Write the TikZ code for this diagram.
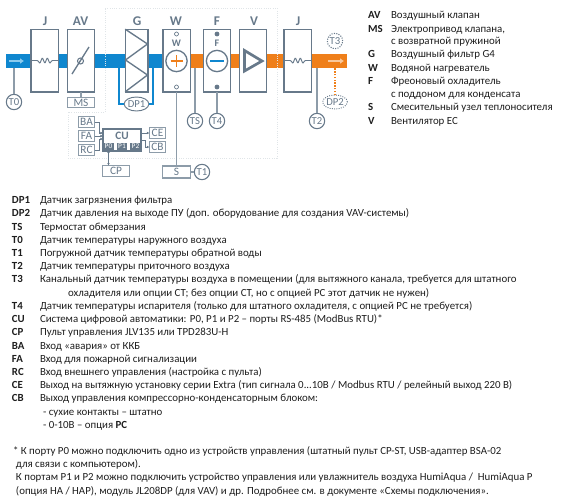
\documentclass[tikz,border=0pt]{standalone}
\usepackage{fontspec}
\setmainfont{Carlito}
\usetikzlibrary{arrows.meta,calc,shapes.geometric}
\definecolor{SlateLine}{HTML}{67798A}
\definecolor{SlateSoft}{HTML}{8D9CA9}
\definecolor{PanelLine}{HTML}{E0E5E8}
\definecolor{DuctBlue}{HTML}{0F87CF}
\definecolor{DuctOrange}{HTML}{EF7F1A}
\definecolor{ArrowBlue}{HTML}{8CCBEE}
\definecolor{ArrowOrange}{HTML}{F9C89B}
\definecolor{TextDark}{HTML}{1E1E1E}

\begin{document}
\begin{tikzpicture}[
    x=0.75pt,y=-0.75pt,
    every node/.style={inner sep=0pt,outer sep=0pt},
    duct/.style={minimum height=10.5pt,minimum width=#1},
    unit/.style={draw=SlateLine,fill=white,line width=1pt,minimum width=20.5pt,minimum height=47pt},
    unitname/.style={font=\fontsize{10}{11}\selectfont\bfseries,text=SlateLine},
    tag/.style={draw=SlateSoft,fill=white,line width=0.8pt,font=\fontsize{8.5}{9}\selectfont,text=SlateLine,minimum width=#1,minimum height=8pt},
    sensor/.style={circle,draw=SlateLine,fill=white,line width=0.8pt,minimum size=11.5pt,font=\fontsize{8}{9}\selectfont,text=SlateLine},
    press/.style={ellipse,draw=SlateLine,fill=white,line width=0.7pt,minimum width=16pt,minimum height=10.5pt,font=\fontsize{8}{9}\selectfont,text=SlateLine},
    port/.style={fill=SlateLine,text=white,minimum width=8pt,minimum height=5.5pt,font=\fontsize{5.5}{6}\selectfont},
    wire/.style={draw=SlateSoft,line width=0.9pt},
    sig/.style={draw=SlateLine,line width=0.5pt,-{Latex[length=2pt,width=2pt]}},
    pipe/.style={draw=DuctBlue,line width=1pt},
    hole/.style={circle,draw=SlateLine,fill=white,line width=0.5pt,minimum size=3pt},
    blackdot/.style={circle,fill=SlateLine,minimum size=3.6pt},
    symb/.style={circle,draw=SlateLine,fill=white,line width=1pt,minimum size=16pt},
    coil/.style={draw=SlateLine,line width=0.7pt,rounded corners=0.6pt},
    flow/.style={line width=1.4pt,-{Latex[length=3pt,width=4.5pt]}},
    legkey/.style={anchor=base west,font=\fontsize{8.15}{9}\selectfont\bfseries,text=TextDark},
    legtext/.style={anchor=base west,font=\fontsize{8.15}{9}\selectfont,text=TextDark}
  ]
    \useasboundingbox (0,0) rectangle (578,500);
    % air ducts
    \node[duct=118.5pt,fill=DuctBlue] (ductin) at (85,61) {};
    \node[duct=117pt,fill=DuctOrange] (ductout) at (269,61) {};
    \draw[PanelLine,densely dotted,line width=0.7pt] (105,8) -- (277,8) -- (277,158) -- (68,158) -- (68,112) -- (105,112) -- cycle;
    \draw[flow,ArrowBlue] (9,61) -- (24,61);
    \draw[flow,ArrowOrange] (328,61) -- (344,61);
    % units
    \node[unit] (jin) at (44.5,60.5) {};
    \node[unit] (av) at (81,60.5) {};
    \node[unit,minimum width=17pt] (g) at (136.5,60.5) {};
    \node[unit] (w) at (176.5,60.5) {};
    \node[unit] (f) at (217,60.5) {};
    \node[unit] (v) at (253,60.5) {};
    \node[unit] (jout) at (297.5,60.5) {};
    \node[unitname] (jin-name) at (45,21) {J};
    \node[unitname] (av-name) at (80.5,21) {AV};
    \node[unitname] (g-name) at (137,21) {G};
    \node[unitname] (w-name) at (176,21) {W};
    \node[unitname] (f-name) at (217,21) {F};
    \node[unitname] (v-name) at (254,21) {V};
    \node[unitname] (jout-name) at (298,21) {J};
    % unit insides
    \draw[coil] (jin.west) -- ++(7,0) -- ++(2,3) -- ++(2.5,-6) -- ++(2.5,6) -- ++(2.5,-6) -- ++(2.5,6) -- ++(2,-3) -- (jin.east);
    \draw[coil] (jout.west) -- ++(7,0) -- ++(2,3) -- ++(2.5,-6) -- ++(2.5,6) -- ++(2.5,-6) -- ++(2.5,6) -- ++(2,-3) -- (jout.east);
    \draw[SlateLine,line width=1pt] (72,74) -- (89,47);
    \node[circle,draw=SlateLine,line width=0.8pt,minimum size=4.5pt] (av-pivot) at (80.5,61) {};
    \draw[SlateLine,line width=1pt] (g.north west) -- (147.5,44) -- (125.5,60) -- (147.5,75) -- (g.south west);
    \node[hole] (w-top) at (176.5,34) {};
    \node[font=\fontsize{7.5}{8}\selectfont\bfseries,text=SlateLine] (w-mark) at (176.5,43) {W};
    \node[symb] (w-sym) at (176.5,61) {};
    \draw[DuctOrange,line width=1pt] (w-sym.center) ++(-6,0) -- ++(12,0) (w-sym.center) ++(0,-6) -- ++(0,12);
    \node[hole] (w-bot) at (176.5,87) {};
    \node[blackdot] (f-top) at (217,34) {};
    \node[font=\fontsize{7.5}{8}\selectfont\bfseries,text=SlateLine] (f-mark) at (217,43) {F};
    \node[symb] (f-sym) at (217,61) {};
    \draw[DuctBlue,line width=1.2pt] (f-sym.center) ++(-7,0) -- ++(14,0);
    \node[blackdot] (f-bot) at (217,87) {};
    \draw[SlateLine,line width=2pt,line join=miter] (244.5,50.5) -- (262,61) -- (244.5,71) -- cycle;
    % sensors
    \node[sensor] (t0) at (14,102) {T0};
    \node[tag=20pt] (ms) at (81,102.5) {MS};
    \node[press] (dp1) at (136.5,104) {DP1};
    \node[sensor] (ts) at (195,121) {TS};
    \node[sensor] (t4) at (217,121) {T4};
    \node[sensor] (t2) at (317,121) {T2};
    \node[sensor,densely dotted] (t3) at (335,41) {T3};
    \node[press,densely dotted] (dp2) at (335,102) {DP2};
    \node[tag=20.5pt,minimum height=9pt] (s) at (176.5,172) {S};
    \node[sensor] (t1) at (202,172) {T1};
    \draw[wire] (t0.north) -- (t0.north |- ductin.south);
    \draw[wire] (av.south) -- (ms.north);
    \draw[wire] (ts.north) -- (ts.north |- ductout.south);
    \draw[wire] (t4.north) -- (f.south);
    \draw[wire] (t2.north) -- (t2.north |- ductout.south);
    \draw[wire] (w.south) -- (s.north);
    \draw[wire] (s.east) -- (t1.west);
    \coordinate (dp1-in) at (119,68);
    \coordinate (dp1-out) at (153,68);
    \draw[pipe] (dp1-in) |- (dp1.west);
    \draw[pipe] (dp1-out) |- (dp1.east);
    \draw[DuctOrange,densely dotted,line width=1.1pt] (dp2.north) -- (dp2.north |- ductout.south);
    % automatics
    \node[draw=SlateLine,fill=white,line width=0.8pt,minimum width=28.5pt,minimum height=16.5pt] (cu) at (122,140) {};
    \node[font=\fontsize{8.5}{9}\selectfont\bfseries,text=SlateLine] (cu-name) at (122,135.5) {CU};
    \node[port] (p0) at (108.5,146.5) {P0};
    \node[port] (p1) at (122,146.5) {P1};
    \node[port] (p2) at (135.5,146.5) {P2};
    \node[tag=12.5pt] (ba) at (86.5,122) {BA};
    \node[tag=12.5pt] (fa) at (86.5,136) {FA};
    \node[tag=12.5pt] (rc) at (86.5,150) {RC};
    \node[tag=12pt] (ce) at (157.5,133) {CE};
    \node[tag=12pt] (cb) at (157.5,147) {CB};
    \node[tag=20pt] (cp) at (116,171) {CP};
    \draw[sig] (ba.east) -- ++(4,0) |- ($(cu.north west)+(0,4)$);
    \draw[sig] (fa.east) -- (fa.east -| cu.west);
    \draw[sig] (rc.east) -- ++(4,0) |- ($(cu.south west)+(0,-12)$);
    \draw[sig] (ce.west -| cu.east) -- (ce.west);
    \draw[sig] (cu.east) -- ++(4,0) |- (cb.west);
    \draw[sig,{Latex[length=2pt,width=2pt]}-{Latex[length=2pt,width=2pt]}] (p0.south) -- (p0.south |- cp.north);
    % legend, top right
    \node[legkey] (k-av) at (368,18) {AV};
    \node[legtext] (v-av) at (391,18) {Воздушный клапан};
    \node[legkey] (k-ms) at (368,32) {MS};
    \node[legtext] (v-ms) at (391,32) {Электропривод клапана,};
    \node[legtext] (v-ms2) at (391,44.5) {с возвратной пружиной};
    \node[legkey] (k-g) at (368,57.5) {G};
    \node[legtext] (v-g) at (391,57.5) {Воздушный фильтр G4};
    \node[legkey] (k-w) at (368,71) {W};
    \node[legtext] (v-w) at (391,71) {Водяной нагреватель};
    \node[legkey] (k-f) at (368,84) {F};
    \node[legtext] (v-f) at (391,84) {Фреоновый охладитель};
    \node[legtext] (v-f2) at (391,97) {с поддоном для конденсата};
    \node[legkey] (k-s) at (368,110.5) {S};
    \node[legtext] (v-s) at (391,110.5) {Смесительный узел теплоносителя};
    \node[legkey] (k-v) at (368,124) {V};
    \node[legtext] (v-v) at (391,124) {Вентилятор EC};
    % legend, bottom
    \node[legkey] (k-dp1) at (12,203) {DP1};
    \node[legtext] (v-dp1) at (40,203) {Датчик загрязнения фильтра};
    \node[legkey] (k-dp2) at (12,216) {DP2};
    \node[legtext] (v-dp2) at (40,216) {Датчик давления на выходе ПУ (доп. оборудование для создания VAV-системы)};
    \node[legkey] (k-ts) at (12,230) {TS};
    \node[legtext] (v-ts) at (40,230) {Термостат обмерзания};
    \node[legkey] (k-t0) at (12,243) {T0};
    \node[legtext] (v-t0) at (40,243) {Датчик температуры наружного воздуха};
    \node[legkey] (k-t1) at (12,256) {T1};
    \node[legtext] (v-t1) at (40,256) {Погружной датчик температуры обратной воды};
    \node[legkey] (k-t2) at (12,269) {T2};
    \node[legtext] (v-t2) at (40,269) {Датчик температуры приточного воздуха};
    \node[legkey] (k-t3) at (12,282) {T3};
    \node[legtext] (v-t3) at (40,282) {Канальный датчик температуры воздуха в помещении (для вытяжного канала, требуется для штатного};
    \node[legtext] (v-t3b) at (68,296) {охладителя или опции СТ; без опции СТ, но с опцией РС этот датчик не нужен)};
    \node[legkey] (k-t4) at (12,309) {T4};
    \node[legtext] (v-t4) at (40,309) {Датчик температуры испарителя (только для штатного охладителя, с опцией РС не требуется)};
    \node[legkey] (k-cu) at (12,322) {CU};
    \node[legtext] (v-cu) at (40,322) {Система цифровой автоматики: P0, P1 и P2 – порты RS-485 (ModBus RTU)*};
    \node[legkey] (k-cp) at (12,335) {CP};
    \node[legtext] (v-cp) at (40,335) {Пульт управления JLV135 или TPD283U-H};
    \node[legkey] (k-ba) at (12,349) {BA};
    \node[legtext] (v-ba) at (40,349) {Вход «авария» от ККБ};
    \node[legkey] (k-fa) at (12,362) {FA};
    \node[legtext] (v-fa) at (40,362) {Вход для пожарной сигнализации};
    \node[legkey] (k-rc) at (12,375) {RC};
    \node[legtext] (v-rc) at (40,375) {Вход внешнего управления (настройка с пульта)};
    \node[legkey] (k-ce) at (12,388) {CE};
    \node[legtext] (v-ce) at (40,388) {Выход на вытяжную установку серии Extra (тип сигнала 0...10В / Modbus RTU / релейный выход 220 В)};
    \node[legkey] (k-cb) at (12,401) {CB};
    \node[legtext] (v-cb) at (40,401) {Выход управления компрессорно-конденсаторным блоком:};
    \node[legtext] (v-cb2) at (43,415) {- сухие контакты – штатно};
    \node[legtext] (v-cb3) at (43,428) {- 0-10В – опция \textbf{PC}};
    % footnote
    \node[legtext] (note1) at (13,454) {* К порту P0 можно подключить одно из устройств управления (штатный пульт CP-ST, USB-адаптер BSA-02};
    \node[legtext] (note2) at (16,467) {для связи с компьютером).};
    \node[legtext] (note3) at (16,480.5) {К портам P1 и P2 можно подключить устройство управления или увлажнитель воздуха HumiAqua /\ \ HumiAqua P};
    \node[legtext] (note4) at (16,494) {(опция HA / HAP), модуль JL208DP (для VAV) и др. Подробнее см. в документе «Схемы подключения».};
  \end{tikzpicture}
\end{document}
